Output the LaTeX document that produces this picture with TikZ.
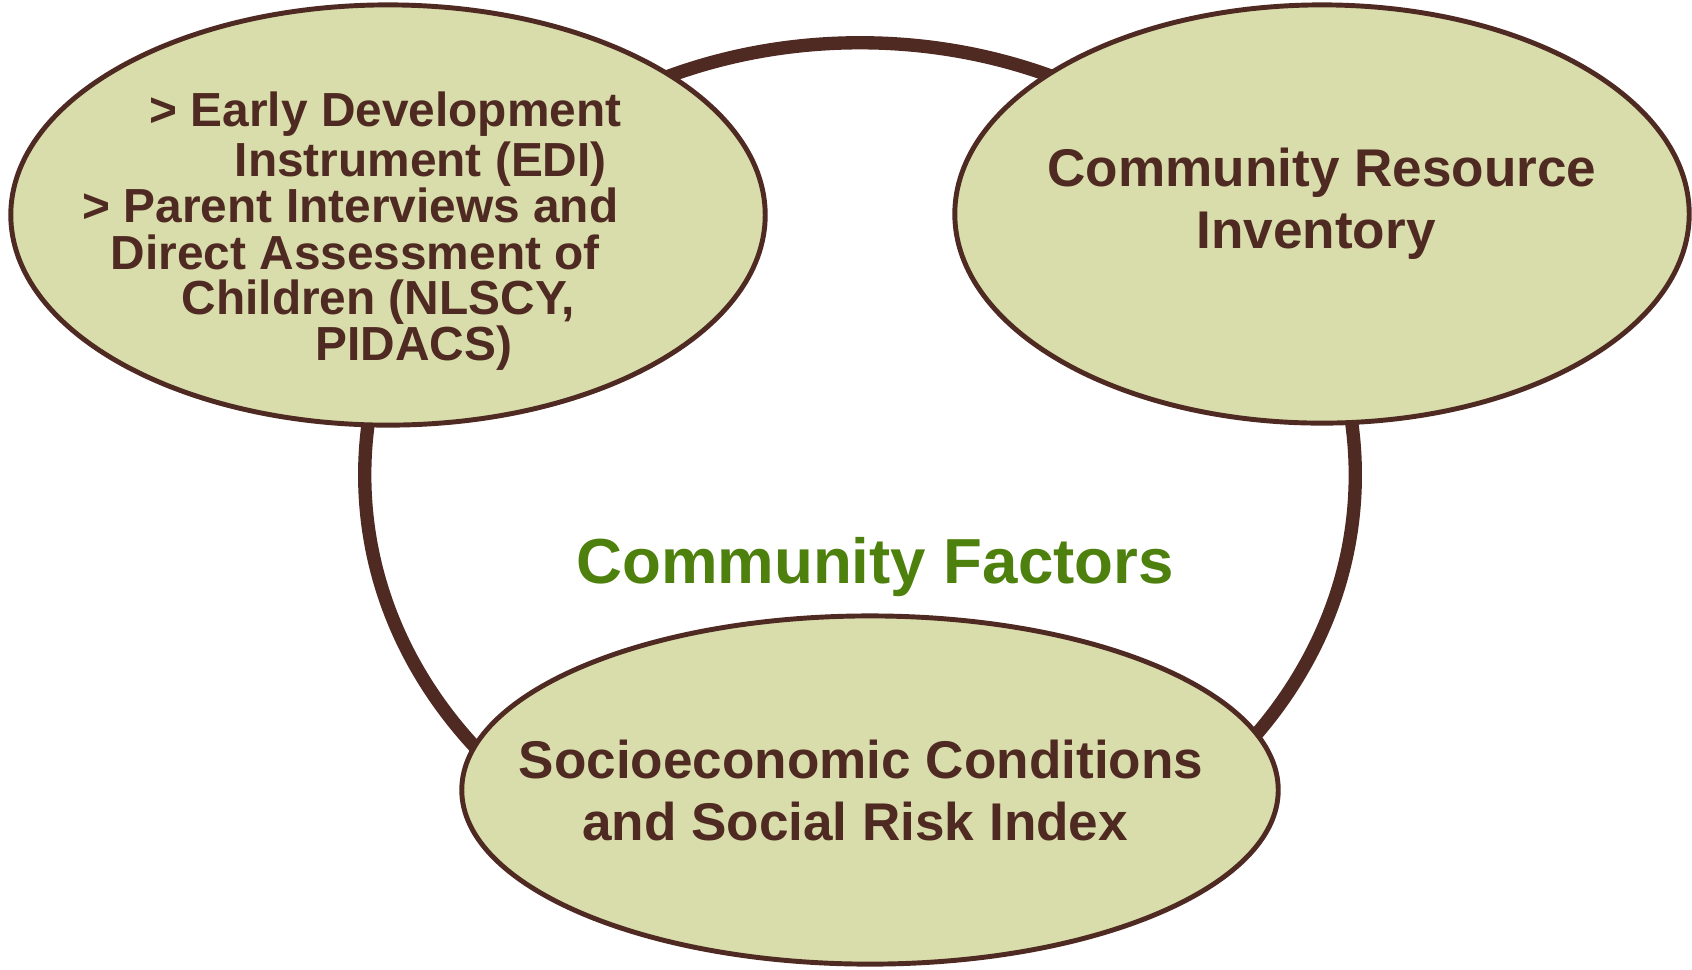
\documentclass[tikz,border=0pt]{standalone}
\usepackage{fontspec}
\setmainfont{Liberation Sans}
\usetikzlibrary{shapes.geometric}
\definecolor{brn}{HTML}{4F2A22}
\definecolor{fillc}{HTML}{D9DDAB}
\definecolor{grn}{HTML}{4E800E}
\begin{document}
\begin{tikzpicture}[x=0.01cm,y=-0.01cm,
  blob/.style={ellipse, draw=brn, fill=fillc, line width=1.4pt, inner sep=0pt},
  ring/.style={draw=brn, line width=3.8pt},
  lbl/.style={text=brn, font=\fontsize{15.1}{17.6}\selectfont\bfseries, inner sep=0pt, anchor=base},
  small/.style={text=brn, font=\fontsize{13.6}{13.2}\selectfont\bfseries, anchor=base west, inner sep=0pt},
  title/.style={text=grn, font=\fontsize{18.1}{21}\selectfont\bfseries, inner sep=0pt, anchor=base}]
\useasboundingbox (0,0) rectangle (1692,969);
\coordinate (rc) at (860,475);
\draw[ring] (rc) ellipse [x radius=4.95cm, y radius=4.32cm];
\node[blob, minimum width=7.54cm, minimum height=4.20cm] (edi) at (388,215) {};
\node[blob, minimum width=7.34cm, minimum height=4.18cm] (cri) at (1322,214) {};
\node[blob, minimum width=8.16cm, minimum height=3.48cm] (ses) at (870,790) {};
\node[small] (l1) at (149,126) {> Early Development};
\node[small] (l2) at (234,176) {Instrument (EDI)};
\node[small] (l3) at (82,222) {> Parent Interviews and};
\node[small] (l4) at (110,269) {Direct Assessment of};
\node[small] (l5) at (181,314) {Children (NLSCY,};
\node[small] (l6) at (315,360) {PIDACS)};
\node[lbl] (r1) at (1322,186) {Community Resource};
\node[lbl] (r2) at (1316,248) {Inventory};
\node[lbl] (b1) at (861,778) {Socioeconomic Conditions};
\node[lbl] (b2) at (855,840) {and Social Risk Index};
\node[title] (cf) at (875,583) {Community Factors};
\end{tikzpicture}
\end{document}
